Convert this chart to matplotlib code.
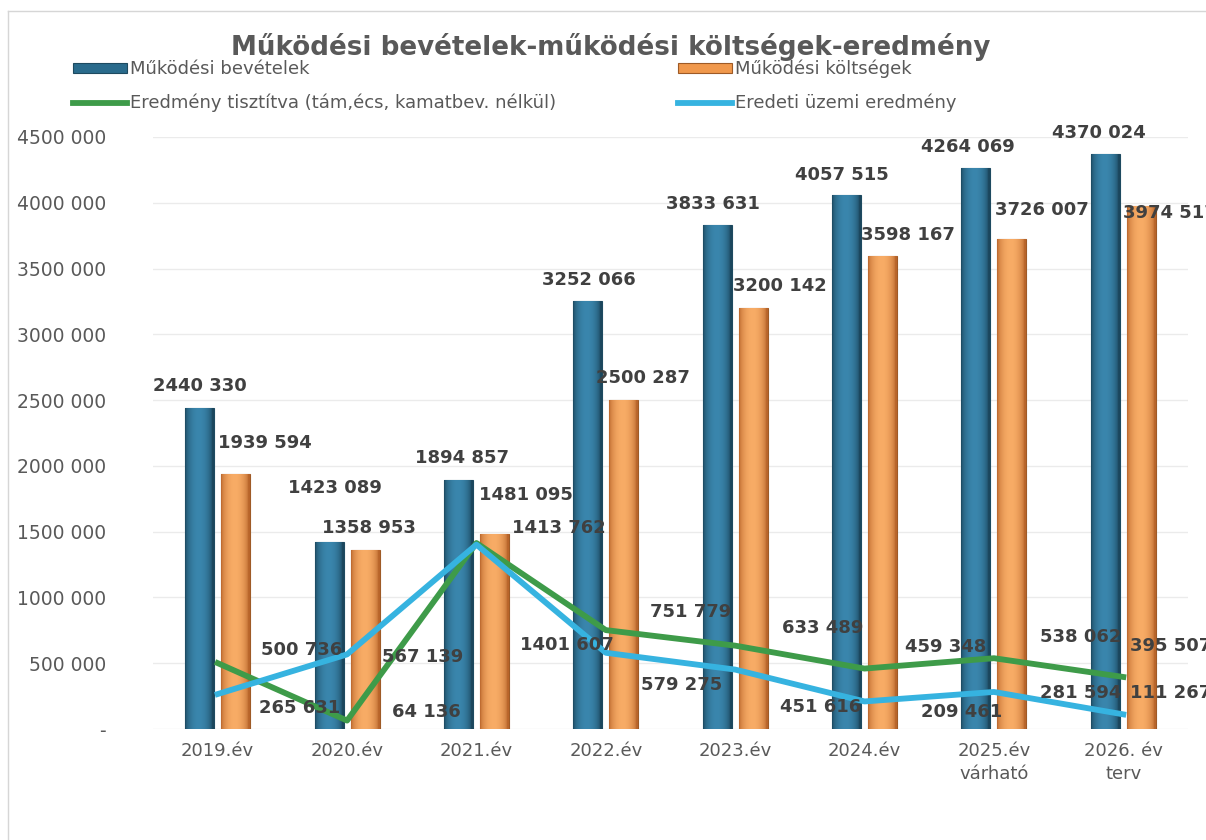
import numpy as np
import matplotlib
matplotlib.use("Agg")
import matplotlib.pyplot as plt
from matplotlib.colors import to_rgb
from matplotlib.lines import Line2D

# ---------------- data ----------------
categories = ["2019.év", "2020.év", "2021.év", "2022.év", "2023.év", "2024.év",
              "2025.év\nvárható", "2026. év\nterv"]
bevetelek = [2440330, 1423089, 1894857, 3252066, 3833631, 4057515, 4264069, 4370024]
koltsegek = [1939594, 1358953, 1481095, 2500287, 3200142, 3598167, 3726007, 3974517]
eredmeny_tisztitva = [500736, 64136, 1413762, 751779, 633489, 459348, 538062, 395507]
eredeti_uzemi = [265631, 567139, 1401607, 579275, 451616, 209461, 281594, 111267]

series_names = ["Működési bevételek", "Működési költségek",
                "Eredmény tisztítva (tám,écs, kamatbev. nélkül)", "Eredeti üzemi eredmény"]
title = "Működési bevételek-működési költségek-eredmény"
y_ticks = [0, 500000, 1000000, 1500000, 2000000, 2500000, 3000000, 3500000, 4000000, 4500000]

# label offsets (pixels, dx right, dy down) as in the original
bev_off = [(0, -22), (6, -54), (4, -22), (1, -21), (-4, -21), (-5, -20), (-8, -21), (-6, -21)]
kolt_off = [(29, -31), (4, -22), (32, -39), (19, -22), (27, -22), (25, -21), (30, -29), (29, 7)]
green_off = [(84, -13), (79, -9), (82, -15), (85, -18), (87, -18), (81, -22), (87, -21), (47, -31)]
blue_off = [(82, 14), (76, 3), (90, 100), (76, 32), (85, 37), (97, 11), (87, 1), (47, -21)]

def fmt(v):
    v = int(round(v))
    if v == 0:
        return "-"
    if v >= 1000:
        return f"{v // 1000} {v % 1000:03d}"
    return str(v)

# ---------------- figure ----------------
plt.rcParams['font.family'] = ['DejaVu Sans']
W, H = 1206, 840
fig = plt.figure(figsize=(W / 100, H / 100), dpi=100)
fig.patch.set_facecolor("white")

left, right, bottom, top = 153, 1188, 729, 137
ax = fig.add_axes([left / W, 1 - bottom / H, (right - left) / W, (bottom - top) / H])

x = np.arange(len(categories))
bw = 0.224
off = 0.139

blue_bar = "#2A6B8C"
orange_bar = "#F0984C"
green_line = "#3E9B49"
blue_line = "#36B3E0"

bars1 = ax.bar(x - off, bevetelek, bw, color=blue_bar, edgecolor="#1E4A60", linewidth=0.8, zorder=2)
bars2 = ax.bar(x + off, koltsegek, bw, color=orange_bar, edgecolor="#9E5A26", linewidth=0.8, zorder=2)

def shade(bars, dark, light):
    d = np.array(to_rgb(dark)); l = np.array(to_rgb(light))
    t = np.linspace(0, 1, 64)
    prof = np.sin(np.pi * np.clip(t * 1.05, 0, 1)) ** 0.55
    grad = d[None, :] + (l - d)[None, :] * prof[:, None]
    img = grad[None, :, :]
    for r in bars:
        x0, y0 = r.get_x(), r.get_y()
        im = ax.imshow(img, extent=(x0, x0 + r.get_width(), y0, y0 + r.get_height()),
                       aspect="auto", zorder=2.1, interpolation="bilinear")
        im.set_clip_path(r)

shade(bars1, "#1B465C", "#3A86AD")
shade(bars2, "#B8642A", "#F8AC66")

ax.plot(x, eredmeny_tisztitva, color=green_line, lw=4.2, zorder=4, solid_joinstyle="round")
ax.plot(x, eredeti_uzemi, color=blue_line, lw=4.2, zorder=4, solid_joinstyle="round")

ax.set_xlim(-0.5, len(categories) - 0.5)
ax.set_ylim(0, 4500000)
ax.set_yticks(y_ticks)
ax.set_yticklabels([fmt(v) for v in y_ticks])
ax.set_xticks(x)
ax.set_xticklabels(categories, linespacing=1.4)
ax.tick_params(axis="y", length=0, pad=34, labelsize=13.5, labelcolor="#595959")
ax.tick_params(axis="x", length=0, pad=9, labelsize=13, labelcolor="#595959")
for s in ax.spines.values():
    s.set_visible(False)
ax.grid(axis="y", color="#EBEBEB", lw=1, zorder=0)
ax.set_axisbelow(True)

lab_kw = dict(textcoords="offset points", ha="center", va="center", fontsize=13,
              fontweight="bold", color="#404040", zorder=6, annotation_clip=False)

def px(o):
    return (o[0] * 0.72, -o[1] * 0.72)

for i, v in enumerate(bevetelek):
    ax.annotate(fmt(v), (x[i] - off, v), xytext=px(bev_off[i]), **lab_kw)
for i, v in enumerate(koltsegek):
    ax.annotate(fmt(v), (x[i] + off, v), xytext=px(kolt_off[i]), **lab_kw)
for i, v in enumerate(eredmeny_tisztitva):
    ax.annotate(fmt(v), (x[i], v), xytext=px(green_off[i]), **lab_kw)
for i, v in enumerate(eredeti_uzemi):
    ax.annotate(fmt(v), (x[i], v), xytext=px(blue_off[i]), **lab_kw)

fig.text(611 / W, 1 - 47 / H, title, ha="center", va="center", fontsize=18.8,
         fontweight="bold", color="#595959")

handles = [bars1.patches[0], Line2D([], [], color=green_line, lw=4.2),
           bars2.patches[0], Line2D([], [], color=blue_line, lw=4.2)]
labels = [series_names[0], series_names[2], series_names[1], series_names[3]]
fig.legend(handles, labels, ncol=2, loc="upper left", bbox_to_anchor=(73 / W, 1 - 60 / H),
           frameon=False, fontsize=13, handlelength=3.0, handletextpad=0.15, handleheight=0.5,
           columnspacing=6.75, labelspacing=0.85, borderpad=0, borderaxespad=0,
           labelcolor="#595959")

# chart border (left and top visible)
fig.add_artist(Line2D([8 / W, 8 / W], [0, 1 - 11 / H], color="#D6D6D6", lw=1))
fig.add_artist(Line2D([8 / W, 1], [1 - 11 / H, 1 - 11 / H], color="#D6D6D6", lw=1))

fig.savefig("out.png", dpi=100)
